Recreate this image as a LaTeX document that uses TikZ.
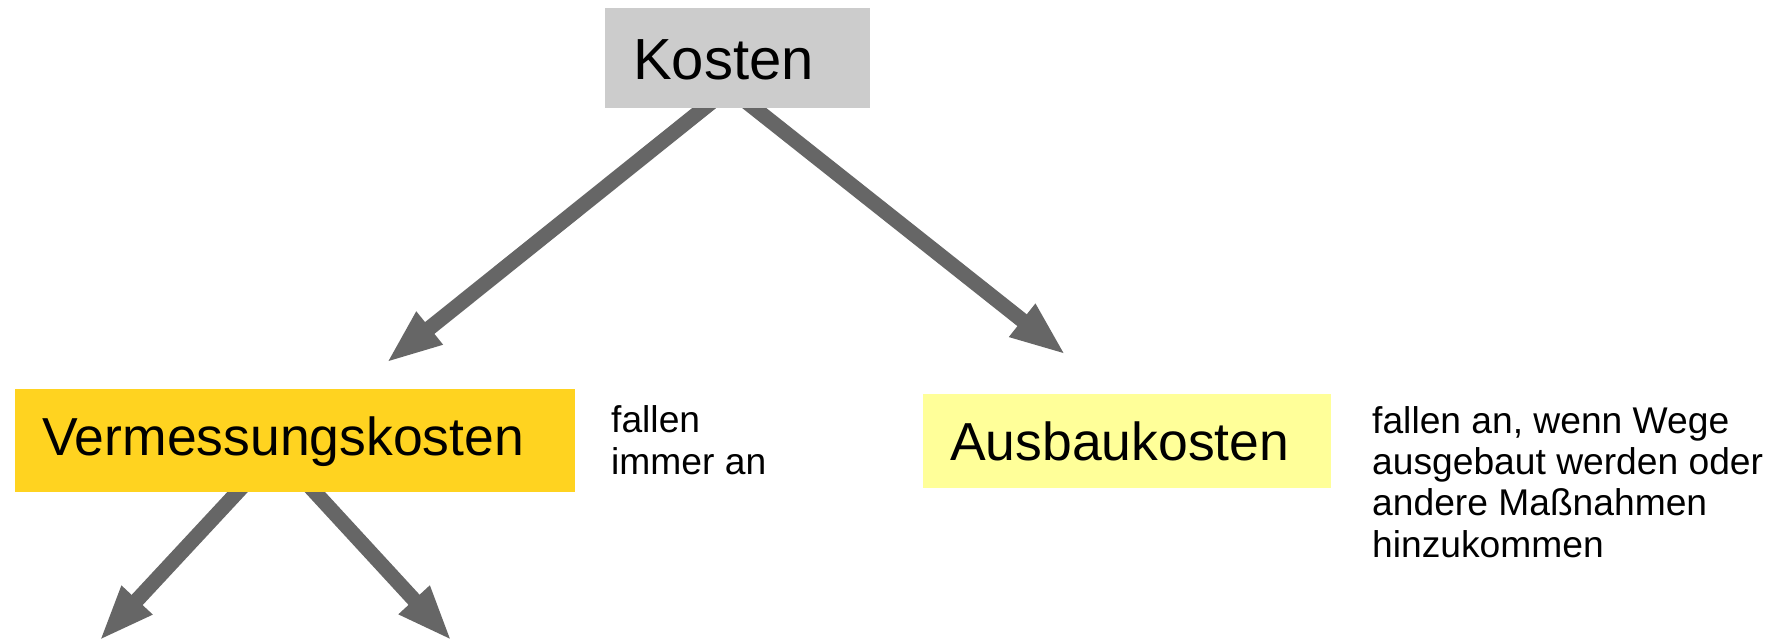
\documentclass[tikz,border=0pt]{standalone}
\usepackage{fontspec}
\setmainfont{Liberation Sans}
\usetikzlibrary{arrows.meta,calc,backgrounds}
\definecolor{boxgray}{HTML}{CCCCCC}
\definecolor{boxgold}{HTML}{FFD320}
\definecolor{boxyellow}{HTML}{FFFF99}
\definecolor{arrowgray}{HTML}{666666}
\begin{document}
\begin{tikzpicture}[x=1pt,y=-1pt,
  box/.style={rectangle, inner ysep=0pt, align=left, anchor=north west},
  bigtext/.style={font=\fontsize{53.5}{64}\selectfont},
  note/.style={font=\fontsize{37.2}{41.2}\selectfont, align=left, anchor=base west, inner sep=0pt},
  conn/.style={draw=arrowgray, color=arrowgray, line width=15pt, -{Triangle[length=56pt,width=38pt]}}
]
\node[box, fill=boxgray, minimum width=265pt, minimum height=100pt, inner xsep=28pt,
      text width=209pt, text height=42pt, text depth=0pt, font=\fontsize{58}{68}\selectfont]
      (kosten) at (605,8) {Kosten};
\node[box, bigtext, fill=boxgold, minimum width=560pt, minimum height=103pt, inner xsep=27pt,
      text width=506pt, text height=38pt, text depth=9pt]
      (verm) at (15,389) {Vermessungskosten};
\node[box, bigtext, fill=boxyellow, minimum width=408pt, minimum height=94pt, inner xsep=27pt,
      text width=354pt, text height=38pt, text depth=0pt]
      (ausbau) at (923,394) {Ausbaukosten};
\node[note] (n1) at (611,474) {fallen\\immer an};
\node[note] (n2) at (1372,557) {fallen an, wenn Wege\\ausgebaut werden oder\\andere Maßnahmen\\hinzukommen};
\coordinate (s1) at ([xshift=-34pt]kosten.south);
\coordinate (s2) at ([xshift=17pt]kosten.south);
\coordinate (s3) at ([xshift=-58pt]verm.south);
\coordinate (s4) at ([xshift=20pt]verm.south);
\coordinate (t1) at (386,363);
\coordinate (t2) at (1066,355);
\coordinate (t3) at (99,641);
\coordinate (t4) at (452,641);
\begin{scope}[on background layer]
\fill[white] (0,0) rectangle (1784,642);
\useasboundingbox (0,0) rectangle (1784,642);
\draw[conn] ($(s1)!-20pt!(t1)$) -- (t1);
\draw[conn] ($(s2)!-20pt!(t2)$) -- (t2);
\draw[conn] ($(s3)!-20pt!(t3)$) -- (t3);
\draw[conn] ($(s4)!-20pt!(t4)$) -- (t4);
\end{scope}
\end{tikzpicture}
\end{document}
